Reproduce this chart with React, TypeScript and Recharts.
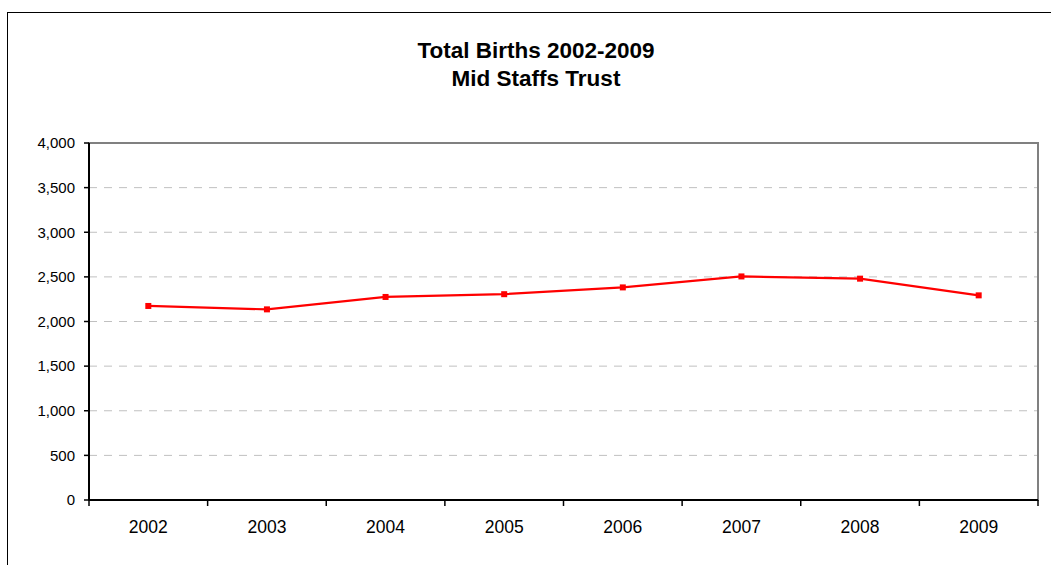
import React from "react";
import {
  LineChart,
  Line,
  XAxis,
  YAxis,
  CartesianGrid,
  ReferenceArea,
} from "recharts";

const years = ["2002", "2003", "2004", "2005", "2006", "2007", "2008", "2009"];
const births = [2174, 2136, 2275, 2306, 2382, 2505, 2480, 2293];
const yTicks = [0, 500, 1000, 1500, 2000, 2500, 3000, 3500, 4000];
const titleLines = ["Total Births 2002-2009", "Mid Staffs Trust"];

const data = years.map((y, i) => ({ year: y, births: births[i] }));

const FONT = '"Liberation Sans", Arial, Helvetica, sans-serif';

const XTick = (props: any) => {
  const { x, y, payload, index, visibleTicksCount } = props;
  const off = payload && typeof payload.offset === "number" && payload.offset > 0 ? payload.offset : 59.3;
  const last = index === (visibleTicksCount ?? years.length) - 1;
  return (
    <g>
      <line x1={x - off} x2={x - off} y1={y} y2={y + 6} stroke="#000" strokeWidth={1.5} />
      {last && <line x1={x + off} x2={x + off} y1={y} y2={y + 6} stroke="#000" strokeWidth={1.5} />}
      <text x={x} y={y + 33} textAnchor="middle" fontFamily={FONT} fontSize={17.5} fill="#000">
        {payload.value}
      </text>
    </g>
  );
};

const SquareDot = (props: any) => {
  const { cx, cy } = props;
  if (cx == null || cy == null) return null;
  return <rect x={cx - 3} y={cy - 3} width={6} height={6} fill="#FF0000" stroke="none" />;
};

export default function App() {
  return (
    <div style={{ position: "fixed", left: 0, top: 0, width: 1051, height: 565, overflow: "hidden", background: "#fff" }}>
      <div
        style={{
          position: "absolute",
          left: 7,
          top: 12,
          width: 1100,
          height: 600,
          border: "1px solid #000",
          boxSizing: "border-box",
        }}
      />
      <div
        style={{
          position: "absolute",
          left: 0,
          top: 37,
          width: 1072,
          textAlign: "center",
          fontFamily: FONT,
          fontWeight: "bold",
          fontSize: 22.5,
          lineHeight: "28px",
          color: "#000",
        }}
      >
        {titleLines.map((t) => (
          <div key={t}>{t}</div>
        ))}
      </div>
      <div style={{ position: "absolute", left: 0, top: 0 }}>
        <LineChart
          width={1051}
          height={565}
          data={data}
          margin={{ top: 143, right: 13, left: 0, bottom: 0 }}
        >
          <CartesianGrid
            vertical={false}
            stroke="#c0c0c0"
            strokeDasharray="8 7"
            yAxisId="left"
          />
          <ReferenceArea
            yAxisId="left"
            y1={0}
            y2={4000}
            fill="none"
            fillOpacity={0}
            stroke="#808080"
            strokeWidth={2}
            ifOverflow="visible"
          />
          <XAxis
            dataKey="year"
            scale="band"
            height={65}
            tickSize={0}
            tickMargin={0}
            tickLine={false}
            interval={0}
            tick={<XTick />}
            axisLine={{ stroke: "#000", strokeWidth: 2 }}
          />
          <YAxis
            yAxisId="left"
            width={89}
            domain={[0, 4000]}
            ticks={yTicks}
            interval={0}
            tickSize={5}
            tickMargin={9}
            tickFormatter={(v: number) => v.toLocaleString("en-US")}
            tick={{ fontFamily: FONT, fontSize: 15, fill: "#000" }}
            tickLine={{ stroke: "#000", strokeWidth: 1.5 }}
            axisLine={{ stroke: "#000", strokeWidth: 2 }}
          />
          <Line
            yAxisId="left"
            type="linear"
            dataKey="births"
            stroke="#FF0000"
            strokeWidth={2.2}
            dot={<SquareDot />}
            activeDot={false}
            isAnimationActive={false}
          />
        </LineChart>
      </div>
    </div>
  );
}
